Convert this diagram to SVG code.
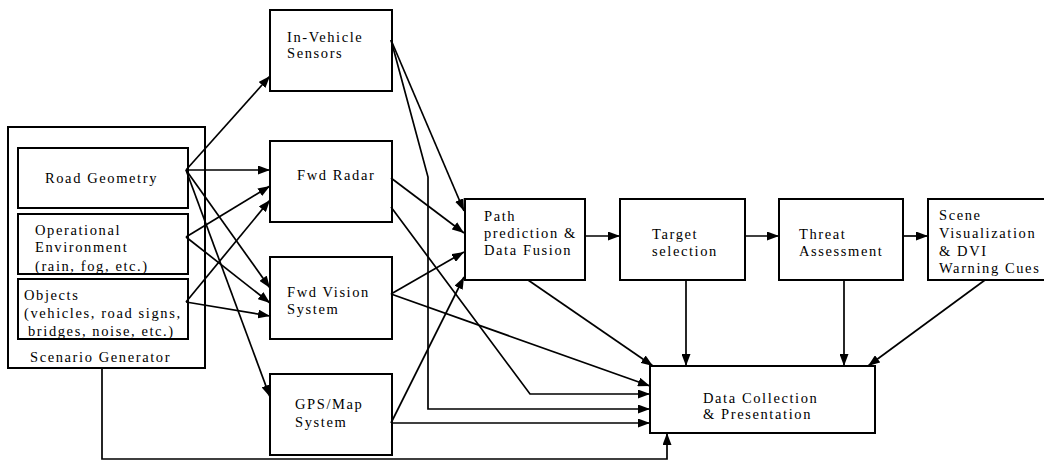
<svg xmlns="http://www.w3.org/2000/svg" width="1044" height="462" viewBox="0 0 1044 462">
  <style>
    .box { fill: #fff; stroke: #000; stroke-width: 2; }
    .lbl { font-family: "Liberation Serif", "Times New Roman", serif; font-size: 14.5px; letter-spacing: 1.6px; fill: #000; }
    .wire { fill: none; stroke: #000; stroke-width: 1.7; }
  </style>
  <defs>
    <marker id="head" markerUnits="userSpaceOnUse" markerWidth="12" markerHeight="9" refX="12" refY="4.5" orient="auto">
      <path d="M0,0 L12,4.5 L0,9 z" fill="#000"/>
    </marker>
  </defs>
  <rect width="1044" height="462" fill="#fff"/>

  <!-- scenario generator with its three inputs -->
  <g id="scenario-generator">
    <rect class="box" x="8" y="127" width="197" height="241"/>
    <text class="lbl" x="30" y="362">Scenario Generator</text>
  </g>
  <g id="road-geometry">
    <rect class="box" x="18" y="148" width="170" height="60"/>
    <text class="lbl" x="45" y="183">Road Geometry</text>
  </g>
  <g id="operational-environment">
    <rect class="box" x="18" y="214" width="170" height="60"/>
    <text class="lbl" x="35" y="235">Operational</text>
    <text class="lbl" x="35" y="252">Environment</text>
    <text class="lbl" x="35" y="271">(rain, fog, etc.)</text>
  </g>
  <g id="objects">
    <rect class="box" x="18" y="279" width="170" height="60"/>
    <text class="lbl" x="24" y="300">Objects</text>
    <text class="lbl" x="24" y="318">(vehicles, road signs,</text>
    <text class="lbl" x="28" y="336">bridges, noise, etc.)</text>
  </g>

  <!-- sensors -->
  <g id="in-vehicle-sensors">
    <rect class="box" x="270" y="10" width="122" height="81"/>
    <text class="lbl" x="287" y="42">In-Vehicle</text>
    <text class="lbl" x="287" y="58">Sensors</text>
  </g>
  <g id="fwd-radar">
    <rect class="box" x="270" y="141" width="122" height="81"/>
    <text class="lbl" x="297" y="180">Fwd Radar</text>
  </g>
  <g id="fwd-vision">
    <rect class="box" x="270" y="257" width="122" height="82"/>
    <text class="lbl" x="287" y="297">Fwd Vision</text>
    <text class="lbl" x="287" y="314">System</text>
  </g>
  <g id="gps-map">
    <rect class="box" x="270" y="374" width="122" height="81"/>
    <text class="lbl" x="295" y="409">GPS/Map</text>
    <text class="lbl" x="295" y="427">System</text>
  </g>

  <!-- processing chain -->
  <g id="path-prediction">
    <rect class="box" x="465" y="199" width="120" height="81"/>
    <text class="lbl" x="484" y="221">Path</text>
    <text class="lbl" x="484" y="238">prediction &amp;</text>
    <text class="lbl" x="484" y="255">Data Fusion</text>
  </g>
  <g id="target-selection">
    <rect class="box" x="620" y="199" width="125" height="81"/>
    <text class="lbl" x="652" y="239">Target</text>
    <text class="lbl" x="652" y="256">selection</text>
  </g>
  <g id="threat-assessment">
    <rect class="box" x="779" y="199" width="124" height="81"/>
    <text class="lbl" x="799" y="239">Threat</text>
    <text class="lbl" x="799" y="256">Assessment</text>
  </g>
  <g id="scene-visualization">
    <rect class="box" x="928" y="199" width="130" height="81"/>
    <text class="lbl" x="939" y="220">Scene</text>
    <text class="lbl" x="939" y="238">Visualization</text>
    <text class="lbl" x="939" y="256">&amp; DVI</text>
    <text class="lbl" x="939" y="273">Warning Cues</text>
  </g>
  <g id="data-collection">
    <rect class="box" x="650" y="366" width="225" height="67"/>
    <text class="lbl" x="703" y="403">Data Collection</text>
    <text class="lbl" x="703" y="419">&amp; Presentation</text>
  </g>

  <g id="connectors" class="wire" marker-end="url(#head)">
    <!-- generator inputs to sensors -->
    <path d="M186,170 L270,76"/>
    <path d="M186,170 L270,170"/>
    <path d="M186,237 L270,186"/>
    <path d="M186,302 L270,200"/>
    <path d="M186,170 L270,288"/>
    <path d="M186,237 L270,303"/>
    <path d="M186,302 L270,316"/>
    <path d="M186,170 L270,397"/>
    <!-- sensors to fusion -->
    <path d="M391,40 L464,211"/>
    <path d="M391,178 L464,233"/>
    <path d="M391,294 L464,252"/>
    <path d="M391,423 L464,277"/>
    <!-- sensors to data collection -->
    <path d="M391,40 L428,177 L428,409 L650,409"/>
    <path d="M391,207 L530,394 L650,394"/>
    <path d="M391,294 L650,386"/>
    <path d="M391,423 L650,423"/>
    <!-- processing chain -->
    <path d="M585,236 L620,236"/>
    <path d="M745,236 L779,236"/>
    <path d="M903,236 L928,236"/>
    <!-- chain to data collection -->
    <path d="M528,280 L653,366"/>
    <path d="M686,280 L686,366"/>
    <path d="M844,280 L844,366"/>
    <path d="M985,280 L868,366"/>
    <path d="M102,368 L102,459 L667,459 L667,433"/>
  </g>
</svg>
